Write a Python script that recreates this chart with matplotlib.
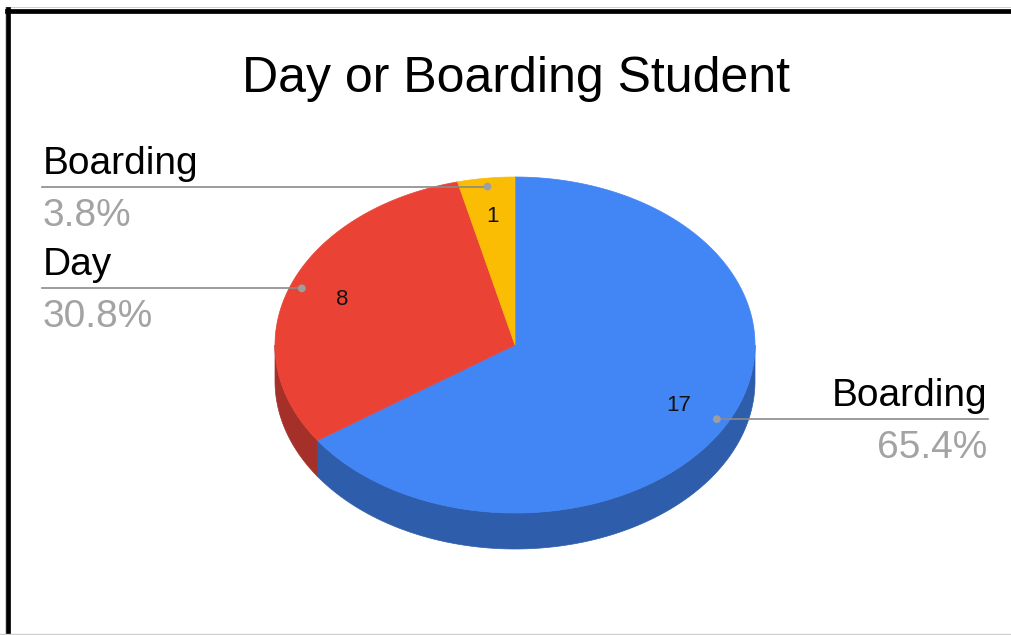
import numpy as np
import matplotlib.pyplot as plt
from matplotlib.patches import Polygon, Circle
from matplotlib.lines import Line2D

plt.rcParams['font.family'] = ['Liberation Sans', 'DejaVu Sans']

title = "Day or Boarding Student"
labels = ["Boarding", "Day", "Boarding"]
values = [17, 8, 1]
top_colors = ["#4285F4", "#EA4335", "#FBBC04"]
side_colors = ["#2E5DAB", "#A5302A", "#B08503"]

# pie geometry in pixel space
cx, cy = 515, 345
rx, ry = 240, 168
depth = 36


def pt(theta, r=1.0, dy=0.0):
    # theta in degrees, clockwise from 12 o'clock
    t = np.radians(theta)
    return cx + r * rx * np.sin(t), cy - r * ry * np.cos(t) + dy


fig = plt.figure(figsize=(10.12, 6.35), dpi=100)
ax = fig.add_axes([0, 0, 1, 1])
ax.set_xlim(0, 1012)
ax.set_ylim(635, 0)
ax.axis('off')

total = sum(values)
bounds = np.concatenate([[0], np.cumsum(values) / total * 360])

# side walls (front half only)
for i in range(len(values)):
    a0, a1 = max(bounds[i], 90), min(bounds[i + 1], 270)
    if a1 <= a0:
        continue
    th = np.linspace(a0, a1, 200)
    xs, ys = pt(th)
    xb, yb = pt(th[::-1], dy=depth)
    poly = np.column_stack([np.concatenate([xs, xb]), np.concatenate([ys, yb])])
    ax.add_patch(Polygon(poly, closed=True, facecolor=side_colors[i],
                         edgecolor=side_colors[i], lw=0.5))

# top faces
for i in range(len(values)):
    th = np.linspace(bounds[i], bounds[i + 1], 300)
    xs, ys = pt(th)
    poly = np.column_stack([np.concatenate([[cx], xs]), np.concatenate([[cy], ys])])
    ax.add_patch(Polygon(poly, closed=True, facecolor=top_colors[i],
                         edgecolor=top_colors[i], lw=0.5))

# value labels and callouts
for i, (lab, v) in enumerate(zip(labels, values)):
    mid = (bounds[i] + bounds[i + 1]) / 2
    vx, vy = pt(mid, 0.77)
    ax.text(vx, vy, str(v), fontsize=16, ha='center', va='center', color='#111111')
    dx, dy_ = pt(mid, 0.95)
    pct = f"{v / total * 100:.1f}%"
    if np.sin(np.radians(mid)) > 0:
        x_end, ha, tx = 988, 'right', 987
    else:
        x_end, ha, tx = 42, 'left', 43
    ax.add_line(Line2D([dx, x_end], [dy_, dy_], color='#8a8a8a', lw=1.2))
    ax.add_patch(Circle((dx, dy_), 3.2, color='#9e9e9e', zorder=5))
    ax.text(tx, dy_ - 13, lab, fontsize=28, ha=ha, va='baseline', color='black')
    ax.text(tx, dy_ + 39, pct, fontsize=28, ha=ha, va='baseline', color='#a3a3a3')

ax.text(516, 92, title, fontsize=36, ha='center', va='baseline', color='black')

# frame
ax.add_line(Line2D([5, 5], [7, 635], color='#c8c8c8', lw=0.6))
ax.add_line(Line2D([5, 1012], [7, 7], color='#c8c8c8', lw=0.6))
ax.add_line(Line2D([8.5, 8.5], [8.5, 635], color='black', lw=3.4))
ax.add_line(Line2D([6.8, 1012], [10.5, 10.5], color='black', lw=3.4))
ax.add_line(Line2D([0, 1012], [633.8, 633.8], color='#d0d0d0', lw=1.0))

fig.savefig('out.png', dpi=100)
